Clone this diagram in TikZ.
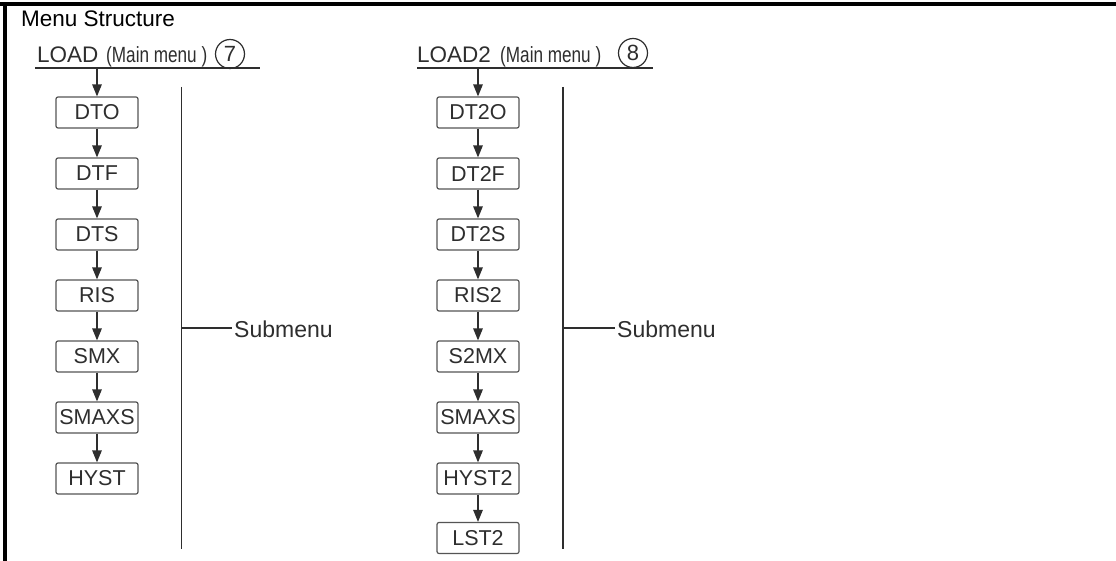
\documentclass[tikz,border=0pt]{standalone}
\usepackage{fontspec}
\usepackage{graphicx}
\setmainfont{Liberation Sans}
\usetikzlibrary{arrows.meta}
\definecolor{ink}{HTML}{2E2E2E}
\definecolor{boxline}{HTML}{555555}
\tikzset{
  menubox/.style={draw=boxline, line width=1.2pt, rounded corners=2pt, minimum width=82pt, minimum height=31pt, inner sep=0pt, text=ink, font=\fontsize{21.5}{23}\selectfont},
  flow/.style={draw=ink, line width=1.3pt, -{Triangle[length=12pt,width=9.5pt]}},
  rule/.style={draw=ink, line width=1.8pt},
  numcirc/.style={draw=ink, line width=1.2pt, circle, minimum size=29pt, inner sep=0pt, text=ink, font=\fontsize{22}{23}\selectfont},
  subtext/.style={anchor=west, inner sep=0pt, text=ink, font=\fontsize{23}{25}\selectfont},
  headtext/.style={anchor=base west, inner sep=0pt, text=ink, font=\fontsize{22.5}{24}\selectfont},
  mainmenu/.style={anchor=base west, inner sep=0pt, text=ink, font=\fontsize{22}{24}\selectfont}
}
\begin{document}
\begin{tikzpicture}[x=1pt,y=-1pt]
\useasboundingbox (0,0) rectangle (1116,561);
\fill[white] (0,0) rectangle (1116,561);
% frame
\draw[line width=3.5pt] (0,4) -- (1116,4);
\draw[line width=3.5pt] (5,4) -- (5,561);
\node[anchor=base west, inner sep=0pt, font=\fontsize{22.5}{24}\selectfont] (title) at (21,27) {Menu Structure};

% ---------- left column ----------
\node[headtext] (load) at (37,63) {LOAD};
\node[mainmenu] (mm1) at (106,63) {\scalebox{0.78}[1]{(Main menu )}};
\node[numcirc] (c7) at (230,54) {7};
\coordinate (u1a) at (35,68);
\coordinate (u1b) at (260,68);
\draw[rule] (u1a) -- (u1b);
\coordinate (s1) at (97,68);

\foreach \n/\t/\y in {a1/DTO/112.5, a2/DTF/173.5, a3/DTS/234.5, a4/RIS/295.5, a5/SMX/356.5, a6/SMAXS/417.5, a7/HYST/478.5}{
  \node[menubox] (\n) at (97,\y) {\t};
}
\draw[flow] (s1) -- (a1.north);
\foreach \p/\q in {a1/a2, a2/a3, a3/a4, a4/a5, a5/a6, a6/a7}{
  \draw[flow] (\p.south) -- (\q.north);
}
\coordinate (v1t) at (181.5,87);
\coordinate (v1b) at (181.5,549);
\coordinate (v1m) at (181.5,328);
\draw[rule] (v1t) -- (v1b);
\node[subtext] (sub1) at (234,329) {Submenu};
\draw[rule] (v1m) -- ([xshift=-2pt]sub1.west |- v1m);

% ---------- right column ----------
\node[headtext] (load2) at (417,63) {LOAD2};
\node[mainmenu] (mm2) at (500,63) {\scalebox{0.78}[1]{(Main menu )}};
\node[numcirc] (c8) at (633,53) {8};
\coordinate (u2a) at (417,68);
\coordinate (u2b) at (653,68);
\draw[rule] (u2a) -- (u2b);
\coordinate (s2) at (478,68);

\foreach \n/\t/\y in {b1/DT2O/112.5, b2/DT2F/173.5, b3/DT2S/234.5, b4/RIS2/295.5, b5/S2MX/356.5, b6/SMAXS/417.5, b7/HYST2/478.5, b8/LST2/538}{
  \node[menubox] (\n) at (478,\y) {\t};
}
\draw[flow] (s2) -- (b1.north);
\foreach \p/\q in {b1/b2, b2/b3, b3/b4, b4/b5, b5/b6, b6/b7, b7/b8}{
  \draw[flow] (\p.south) -- (\q.north);
}
\coordinate (v2t) at (563,87);
\coordinate (v2b) at (563,549);
\coordinate (v2m) at (563,328);
\draw[rule] (v2t) -- (v2b);
\node[subtext] (sub2) at (617,329) {Submenu};
\draw[rule] (v2m) -- ([xshift=-2pt]sub2.west |- v2m);
\end{tikzpicture}
\end{document}
